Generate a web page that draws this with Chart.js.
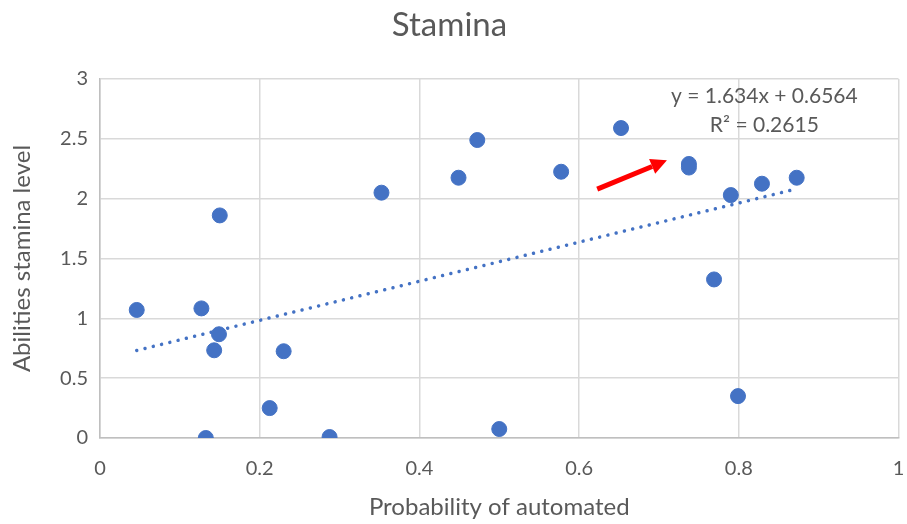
<!DOCTYPE html>
<html>
<head>
<meta charset="utf-8">
<script src="https://cdn.jsdelivr.net/npm/chart.js@4"></script>
<style>
  html, body { margin: 0; padding: 0; background: #fff; }
  #wrap { width: 907px; height: 524px; }
</style>
</head>
<body>
<div id="wrap"><canvas id="staminaChart" width="907" height="524"></canvas></div>
<script>
// Data
const probAutomated = [0.046, 0.127, 0.150, 0.149, 0.143, 0.230, 0.2125, 0.1325, 0.2875, 0.3525, 0.449,
  0.4725, 0.500, 0.5775, 0.6525, 0.7375, 0.7375, 0.790, 0.769, 0.799, 0.829, 0.8725];
const staminaLevel = [1.07, 1.083, 1.86, 0.867, 0.733, 0.725, 0.25, 0.0, 0.008, 2.05, 2.175,
  2.49, 0.075, 2.225, 2.59, 2.29, 2.26, 2.03, 1.325, 0.35, 2.125, 2.175];
const trendSlope = 1.634;
const trendIntercept = 0.6564;
const trendLabels = ['y = 1.634x + 0.6564', 'R² = 0.2615'];
const xTicks = [0, 0.2, 0.4, 0.6, 0.8, 1];
const yTicks = [0, 0.5, 1, 1.5, 2, 2.5, 3];
// annotation arrow, in data units (tail -> tip)
const arrowTail = [0.6227, 2.08];
const arrowTip = [0.710, 2.32];
const labelAnchor = [0.832, 2.857];

const textColor = '#595959';
const blue = '#4472C4';
const fontFamily = 'Lato, "Open Sans", sans-serif';

const points = probAutomated.map((x, i) => ({ x: x, y: staminaLevel[i] }));
const xMin = Math.min(...probAutomated);
const xMax = Math.max(...probAutomated);
const trendPoints = [
  { x: xMin, y: trendSlope * xMin + trendIntercept },
  { x: xMax, y: trendSlope * xMax + trendIntercept }
];

// Trendline label and red arrow
const annotations = {
  id: 'annotations',
  afterDatasetsDraw(chart) {
    const ctx = chart.ctx;
    const xs = chart.scales.x, ys = chart.scales.y;
    ctx.save();
    ctx.fillStyle = textColor;
    ctx.font = '21px ' + fontFamily;
    ctx.textAlign = 'center';
    ctx.textBaseline = 'middle';
    const cx = xs.getPixelForValue(labelAnchor[0]);
    const cy = ys.getPixelForValue(labelAnchor[1]);
    ctx.fillText(trendLabels[0], cx, cy);
    ctx.fillText(trendLabels[1], cx, cy + 29);

    const x0 = xs.getPixelForValue(arrowTail[0]), y0 = ys.getPixelForValue(arrowTail[1]);
    const x1 = xs.getPixelForValue(arrowTip[0]), y1 = ys.getPixelForValue(arrowTip[1]);
    const ang = Math.atan2(y1 - y0, x1 - x0);
    const headLen = 16, headW = 8;
    const bx = x1 - headLen * Math.cos(ang), by = y1 - headLen * Math.sin(ang);
    ctx.strokeStyle = '#FF0000';
    ctx.fillStyle = '#FF0000';
    ctx.lineWidth = 5;
    ctx.beginPath();
    ctx.moveTo(x0, y0);
    ctx.lineTo(bx, by);
    ctx.stroke();
    ctx.beginPath();
    ctx.moveTo(x1, y1);
    ctx.lineTo(bx + headW * Math.sin(ang), by - headW * Math.cos(ang));
    ctx.lineTo(bx - headW * Math.sin(ang), by + headW * Math.cos(ang));
    ctx.closePath();
    ctx.fill();
    ctx.restore();
  }
};

const ctx = document.getElementById('staminaChart').getContext('2d');
new Chart(ctx, {
  type: 'scatter',
  data: {
    datasets: [{
      label: 'Stamina',
      data: points,
      backgroundColor: blue,
      borderColor: blue,
      pointRadius: 7.5,
      pointHoverRadius: 7.5,
      order: 1
    }, {
      label: 'Trend',
      type: 'line',
      data: trendPoints,
      borderColor: blue,
      borderWidth: 3.5,
      borderDash: [0.01, 8.5],
      borderCapStyle: 'round',
      pointRadius: 0,
      fill: false,
      order: 2
    }]
  },
  options: {
    responsive: false,
    animation: false,
    layout: { padding: { left: 0, right: 8, top: 0, bottom: 0 } },
    plugins: {
      legend: { display: false },
      tooltip: { enabled: false },
      title: {
        display: true,
        text: 'Stamina',
        color: textColor,
        font: { family: fontFamily, size: 33, weight: 'normal' },
        padding: { top: 5.2, bottom: 34.2 }
      }
    },
    scales: {
      x: {
        type: 'linear',
        min: 0,
        max: 1,
        afterBuildTicks(scale) { scale.ticks = xTicks.map(v => ({ value: v })); },
        afterFit(scale) {
          scale.height = 86;
          scale.paddingLeft = 0;
          scale.paddingRight = 0;
        },
        grid: { color: '#d9d9d9', lineWidth: 1.5, drawTicks: false },
        border: { color: '#bfbfbf', width: 1.5 },
        ticks: {
          color: textColor,
          padding: 19,
          maxRotation: 0,
          callback: v => String(v),
          font: { family: fontFamily, size: 20 }
        },
        title: {
          display: true,
          text: 'Probability of automated',
          color: textColor,
          font: { family: fontFamily, size: 24 },
          padding: { top: 0, bottom: 2.6 }
        }
      },
      y: {
        type: 'linear',
        min: 0,
        max: 3,
        afterBuildTicks(scale) { scale.ticks = yTicks.map(v => ({ value: v })); },
        afterFit(scale) {
          scale.width = 100;
          scale.paddingTop = 0;
          scale.paddingBottom = 0;
        },
        grid: { color: '#d9d9d9', lineWidth: 1.5, drawTicks: false },
        border: { color: '#bfbfbf', width: 1.5 },
        ticks: {
          color: textColor,
          padding: 12,
          callback: v => String(v),
          font: { family: fontFamily, size: 20 }
        },
        title: {
          display: true,
          text: 'Abilities stamina level',
          color: textColor,
          font: { family: fontFamily, size: 24 },
          padding: { top: 7.6, bottom: 0 }
        }
      }
    }
  },
  plugins: [annotations]
});
</script>
</body>
</html>
